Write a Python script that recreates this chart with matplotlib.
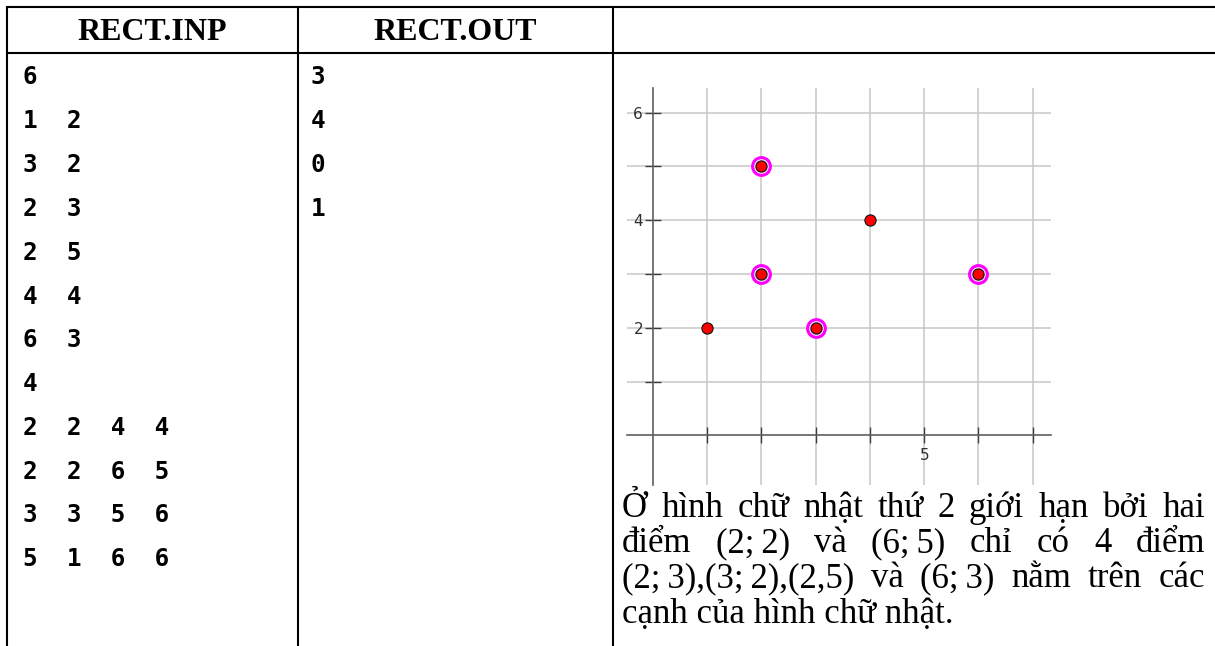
import matplotlib
matplotlib.use("Agg")
import matplotlib.pyplot as plt
from matplotlib.ticker import FixedLocator, FuncFormatter

# ---------------- data ----------------
headers = ["RECT.INP", "RECT.OUT", ""]
points_x = [1, 3, 2, 2, 4, 6]
points_y = [2, 2, 3, 5, 4, 3]
rects = [[2, 2, 4, 4], [2, 2, 6, 5], [3, 3, 5, 6], [5, 1, 6, 6]]
answers = [3, 4, 0, 1]
shown_rect = 1          # the rectangle illustrated in the picture (2nd)
x_ticks = [1, 2, 3, 4, 5, 6, 7]
y_ticks = [1, 2, 3, 4, 5, 6]
x_tick_labels = {5: "5"}
y_tick_labels = {2: "2", 4: "4", 6: "6"}
note_lines = [
    ["Ở", "hình", "chữ", "nhật", "thứ", "2", "giới", "hạn", "bởi", "hai"],
    ["điểm", "(2;\u20092)", "và", "(6;\u20095)", "chỉ", "có", "4", "điểm"],
    ["(2;\u20093),(3;\u20092),(2,5)", "và", "(6;\u20093)", "nằm", "trên", "các"],
    ["cạnh của hình chữ nhật."],
]

# ---------------- figure ----------------
W, H = 1215, 646
fig = plt.figure(figsize=(W / 100, H / 100), dpi=100)
fig.patch.set_facecolor("white")

bg = fig.add_axes([0, 0, 1, 1])
bg.set_xlim(0, W)
bg.set_ylim(H, 0)
bg.axis("off")

SERIF = ["Liberation Serif", "DejaVu Serif"]
MONO = ["DejaVu Sans Mono"]

# table frame
lw = 1.5
top_y, head_y = 6.7, 53.3
col_x = [7.3, 297.5, 612.7]
for yy in (top_y, head_y):
    bg.plot([col_x[0] - 0.7, W + 5], [yy, yy], color="black", lw=lw,
            solid_capstyle="butt")
for xx in col_x:
    bg.plot([xx, xx], [top_y - 0.7, H + 5], color="black", lw=lw,
            solid_capstyle="butt")

# headers
col_centers = [(col_x[0] + col_x[1]) / 2, (col_x[1] + col_x[2]) / 2,
               (col_x[2] + W) / 2]
for cx, h in zip(col_centers, headers):
    bg.text(cx, 39.5, h, ha="center", va="baseline", fontsize=23,
            fontweight="bold", family=SERIF)

# input file content
inp_rows = [[len(points_x)]] + [[a, b] for a, b in zip(points_x, points_y)] \
    + [[len(rects)]] + rects
row0, row_step = 84.5, 43.8
for i, row in enumerate(inp_rows):
    bg.text(23, row0 + row_step * i, "  ".join(str(v) for v in row),
            fontsize=17.5, fontweight="bold", family=MONO, va="baseline")

# output file content
for i, v in enumerate(answers):
    bg.text(311, row0 + row_step * i, str(v), fontsize=17.5,
            fontweight="bold", family=MONO, va="baseline")

# ---------------- chart ----------------
ax = fig.add_axes([626.7 / W, (H - 485) / H, 424 / W, 396.7 / H])
ax.set_facecolor("none")
ax.set_xlim(-0.48, 7.33)
ax.set_ylim(-0.92, 6.45)
for s in ("top", "right"):
    ax.spines[s].set_visible(False)
ax.spines["left"].set_position(("data", 0))
ax.spines["bottom"].set_position(("data", 0))
for s in ("left", "bottom"):
    ax.spines[s].set_color("#5e5e5e")
    ax.spines[s].set_linewidth(1.2)
    ax.spines[s].set_zorder(2)

ax.xaxis.set_major_locator(FixedLocator(x_ticks))
ax.yaxis.set_major_locator(FixedLocator(y_ticks))
ax.xaxis.set_major_formatter(FuncFormatter(lambda v, p: x_tick_labels.get(int(round(v)), "")))
ax.yaxis.set_major_formatter(FuncFormatter(lambda v, p: y_tick_labels.get(int(round(v)), "")))
ax.tick_params(axis="both", direction="inout", length=11, width=1.0,
               color="#3c3c3c", labelsize=11, labelcolor="#2e2e2e")
ax.tick_params(axis="x", pad=3.5)
ax.tick_params(axis="y", pad=1.5)
ax.grid(True, color="#c8c8c8", lw=1.1, zorder=0)
ax.set_axisbelow(True)

# points on the boundary of the shown rectangle
x1, y1, x2, y2 = rects[shown_rect]
on_edge = [((x in (x1, x2)) and y1 <= y <= y2) or ((y in (y1, y2)) and x1 <= x <= x2)
           for x, y in zip(points_x, points_y)]
hx = [x for x, e in zip(points_x, on_edge) if e]
hy = [y for y, e in zip(points_y, on_edge) if e]

ax.plot(hx, hy, "o", ms=12.8, mfc="#fbe3fb", mec="#ff00ff", mew=2.2,
        ls="none", zorder=4, clip_on=False)
ax.plot(points_x, points_y, "o", ms=8.0, mfc="#ff0000", mec="#1a1a1a",
        mew=0.9, ls="none", zorder=5, clip_on=False)

# ---------------- justified note ----------------
renderer = fig.canvas.get_renderer()
left, right = 622.0, 1205.0
base0, line_step = 517.0, 35.2
for li, tokens in enumerate(note_lines):
    y = base0 + line_step * li
    texts = [bg.text(0, y, t, fontsize=25, family=SERIF, va="baseline")
             for t in tokens]
    if len(tokens) == 1:
        texts[0].set_x(left)
        continue
    widths = [t.get_window_extent(renderer).width for t in texts]
    gap = (right - left - sum(widths)) / (len(tokens) - 1)
    x = left
    for t, w in zip(texts, widths):
        t.set_x(x)
        x += w + gap

fig.savefig("out.png", dpi=100, facecolor="white")
